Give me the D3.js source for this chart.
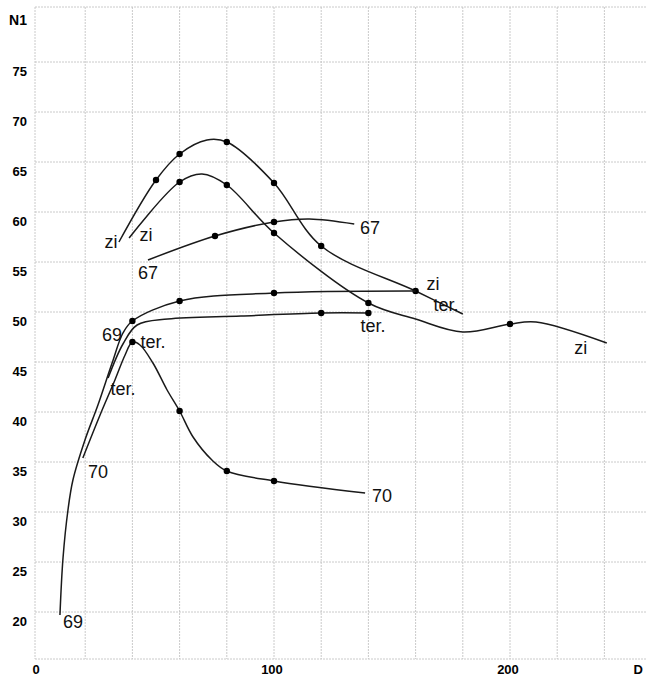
<!DOCTYPE html>
<html><head><meta charset="utf-8">
<script src="https://cdn.jsdelivr.net/npm/d3@7/dist/d3.min.js"></script>
<style>
html,body{margin:0;padding:0;background:#fff;}
svg{display:block;}
</style></head>
<body>
<svg id="chart" width="646" height="678"></svg>
<script>
// ---------- data ----------
const xTickLabels = [0, 100, 200];
const yTickLabels = [20, 25, 30, 35, 40, 45, 50, 55, 60, 65, 70, 75];
const xGrid = [20, 40, 60, 80, 100, 120, 140, 160, 180, 200, 220, 240];

// curve "zi" (upper)
const zi1X = [34.3, 50, 60, 71.6, 80, 100, 120, 160, 180];
const zi1Y = [57.0, 63.2, 65.8, 67.2, 67.0, 62.9, 56.6, 52.1, 49.8];
const zi1Dots = [50, 60, 80, 100, 120, 160];

// curve "zi" (second)
const zi2X = [38.6, 60, 69.5, 80, 100, 140, 160, 180, 200, 211, 241];
const zi2Y = [57.4, 63.0, 63.8, 62.7, 57.9, 50.9, 49.3, 48.0, 48.8, 49.0, 46.9];
const zi2Dots = [60, 80, 100, 140, 200];

// curve "67"
const c67X = [46.6, 75, 100, 115, 134];
const c67Y = [55.2, 57.6, 59.0, 59.3, 58.8];
const c67Dots = [75, 100];

// curve "69" (rising from bottom, upper plateau)
const c69X = [9.3, 10.6, 12.7, 14.8, 19.9, 25.4, 31.4, 36, 40, 60, 100, 160];
const c69Y = [19.7, 25.4, 30.2, 33.2, 37.2, 40.7, 44.9, 47.9, 49.1, 51.1, 51.9, 52.1];
const c69Dots = [40, 60, 100];

// curve "ter." (lower plateau)
const terX = [29.7, 36, 42, 55, 86, 120, 140];
const terY = [43.4, 46.8, 48.7, 49.3, 49.6, 49.9, 49.9];
const terDots = [120, 140];

// curve "70"
const c70X = [19, 26.3, 32.6, 36.9, 40, 43.2, 48.7, 54.7, 60, 65.7, 73.7, 80, 100, 138.6];
const c70Y = [35.4, 39.7, 43.2, 45.7, 47.0, 46.7, 44.9, 42.2, 40.1, 37.5, 35.2, 34.1, 33.1, 31.9];
const c70Dots = [40, 60, 80, 100];

// annotations (data coordinates)
const labelText = ["zi", "zi", "67", "67", "zi", "ter.", "zi", "ter.", "69", "ter.", "ter.", "70", "70", "69"];
const labelX    = [30.9, 45.8, 46.6, 140.7, 167.4, 172.9, 230, 142, 31.4, 48.7, 36, 25.4, 145.8, 14.8];
const labelY    = [57.0, 57.7, 53.9, 58.4, 52.8, 50.7, 46.4, 48.6, 47.7, 47.0, 42.3, 34.0, 31.6, 19.0];

// ---------- drawing ----------
const svg = d3.select("#chart");
const x = d3.scaleLinear().domain([0, 100]).range([38, 274]);
const y = d3.scaleLinear().domain([75, 20]).range([62, 612]);
const xLeft = x.invert(35), xRight = x.invert(646);
const yTop = y.invert(7), yBot = y.invert(659);

const grid = svg.append("g").attr("stroke", "#c4c4c4").attr("stroke-width", 0.9)
  .attr("stroke-dasharray", "2,1");
grid.selectAll("line.v").data(xGrid).join("line")
  .attr("x1", d => x(d)).attr("x2", d => x(d))
  .attr("y1", y(yTop)).attr("y2", y(yBot));
grid.selectAll("line.h").data(yTickLabels).join("line")
  .attr("x1", x(xLeft)).attr("x2", x(xRight))
  .attr("y1", d => y(d)).attr("y2", d => y(d));
// frame
grid.append("line").attr("x1", x(xLeft)).attr("x2", x(xRight)).attr("y1", y(yTop)).attr("y2", y(yTop));
grid.append("line").attr("x1", x(xLeft)).attr("x2", x(xRight)).attr("y1", y(yBot)).attr("y2", y(yBot));
grid.append("line").attr("x1", x(xLeft)).attr("x2", x(xLeft)).attr("y1", y(yTop)).attr("y2", y(yBot));

// axis labels
const tickFont = "'Liberation Sans Narrow','Arial Narrow','Liberation Sans',Arial,sans-serif";
svg.append("g").selectAll("text").data(yTickLabels).join("text")
  .attr("x", 27).attr("y", d => y(d) + 9)
  .attr("text-anchor", "end").attr("dominant-baseline", "central")
  .attr("font-family", tickFont).attr("font-weight", "bold").attr("font-size", 13)
  .attr("fill", "#000").text(d => d);
svg.append("text").attr("x", 27).attr("y", 20).attr("text-anchor", "end")
  .attr("dominant-baseline", "central")
  .attr("font-family", tickFont).attr("font-weight", "bold").attr("font-size", 14)
  .attr("fill", "#000").text("N1");
svg.append("g").selectAll("text").data(xTickLabels).join("text")
  .attr("x", d => x(d) - 2).attr("y", 669)
  .attr("text-anchor", "middle").attr("dominant-baseline", "central")
  .attr("font-family", tickFont).attr("font-weight", "bold").attr("font-size", 13)
  .attr("fill", "#000").text(d => d);
svg.append("text").attr("x", 643).attr("y", 669).attr("text-anchor", "end")
  .attr("dominant-baseline", "central")
  .attr("font-family", tickFont).attr("font-weight", "bold").attr("font-size", 13)
  .attr("fill", "#000").text("D");

// curves
const series = [
  {xs: zi1X, ys: zi1Y, dots: zi1Dots},
  {xs: zi2X, ys: zi2Y, dots: zi2Dots},
  {xs: c67X, ys: c67Y, dots: c67Dots},
  {xs: c69X, ys: c69Y, dots: c69Dots},
  {xs: terX, ys: terY, dots: terDots},
  {xs: c70X, ys: c70Y, dots: c70Dots}
];
const line = d3.line().x(d => x(d[0])).y(d => y(d[1])).curve(d3.curveCatmullRom.alpha(0.5));
const curves = svg.append("g");
series.forEach(s => {
  const pts = s.xs.map((v, i) => [v, s.ys[i]]);
  curves.append("path").attr("d", line(pts))
    .attr("fill", "none").attr("stroke", "#1a1a1a").attr("stroke-width", 1.5);
  const dp = pts.filter(p => s.dots.includes(p[0]));
  curves.selectAll(null).data(dp).join("circle")
    .attr("cx", d => x(d[0])).attr("cy", d => y(d[1])).attr("r", 3.2)
    .attr("fill", "#000");
});

// annotations
svg.append("g").selectAll("text").data(labelText).join("text")
  .attr("x", (d, i) => x(labelX[i])).attr("y", (d, i) => y(labelY[i]))
  .attr("text-anchor", "middle").attr("dominant-baseline", "central")
  .attr("font-family", "'Liberation Sans',Arial,Helvetica,sans-serif")
  .attr("font-size", 18).attr("fill", "#111")
  .text(d => d);
</script>
</body></html>
